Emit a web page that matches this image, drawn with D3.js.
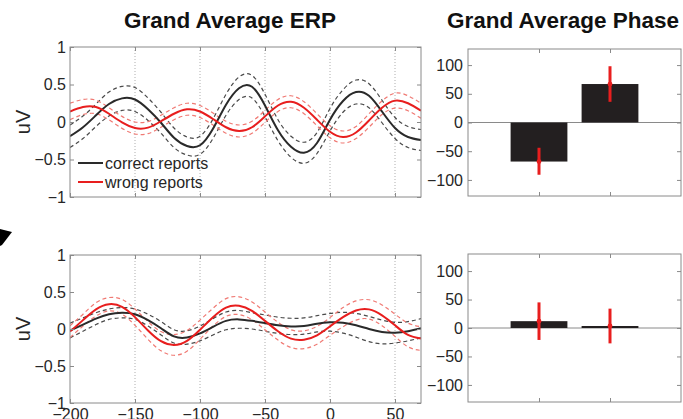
<!DOCTYPE html>
<html>
<head>
<meta charset="utf-8">
<script src="https://cdn.jsdelivr.net/npm/d3@7/dist/d3.min.js"></script>
<style>
  html, body { margin: 0; padding: 0; background: #fff; }
  svg { display: block; font-family: "Liberation Sans", Arial, Helvetica, sans-serif; }
</style>
</head>
<body>
<svg id="fig" width="683" height="419"></svg>
<script>
// Time axis (ms) of the grand-average waveforms
const times = [-200,-190,-180,-170,-160,-150,-140,-130,-120,-110,-100,-90,-80,-70,
               -60,-50,-40,-30,-20,-10,0,10,20,30,40,50,60,70];

// Upper panel: mean ERP (uV) and standard error
const topCorrect = [-0.19,-0.07,0.09,0.24,0.315,0.30,0.17,-0.01,-0.21,-0.32,-0.31,-0.09,0.23,0.45,
                    0.47,0.22,-0.11,-0.33,-0.41,-0.28,0.03,0.28,0.40,0.35,0.14,-0.08,-0.20,-0.24];
const topCorrectSem = [0.15,0.15,0.15,0.16,0.16,0.16,0.15,0.14,0.13,0.12,0.12,0.13,0.14,0.15,
                       0.15,0.15,0.14,0.14,0.14,0.14,0.15,0.15,0.16,0.16,0.15,0.14,0.14,0.14];
const topWrong = [0.14,0.20,0.20,0.11,-0.005,-0.08,-0.075,0.01,0.11,0.17,0.14,0.04,-0.07,-0.12,
                  -0.07,0.075,0.22,0.27,0.19,0.03,-0.13,-0.20,-0.14,0.02,0.19,0.285,0.25,0.15];
const topWrongSem = [0.11,0.10,0.09,0.08,0.08,0.08,0.08,0.08,0.08,0.08,0.08,0.08,0.08,0.08,
                     0.08,0.08,0.08,0.08,0.08,0.08,0.08,0.08,0.08,0.09,0.09,0.10,0.10,0.10];

// Lower panel: mean ERP (uV) and standard error
const botCorrect = [-0.02,0.06,0.14,0.20,0.22,0.20,0.12,0.01,-0.10,-0.115,-0.06,0.03,0.11,0.13,
                    0.11,0.08,0.05,0.035,0.04,0.07,0.09,0.085,0.05,0.0,-0.04,-0.05,-0.03,0.01];
const botCorrectSem = [0.10,0.09,0.08,0.07,0.07,0.07,0.08,0.09,0.09,0.09,0.10,0.11,0.12,0.12,
                       0.11,0.11,0.11,0.11,0.11,0.11,0.12,0.14,0.16,0.17,0.16,0.14,0.13,0.13];
const botWrong = [-0.035,0.12,0.265,0.335,0.30,0.16,-0.02,-0.165,-0.215,-0.16,-0.01,0.16,0.29,0.315,
                  0.245,0.11,-0.03,-0.13,-0.145,-0.085,0.035,0.16,0.25,0.265,0.185,0.05,-0.08,-0.13];
const botWrongSem = [0.08,0.08,0.09,0.09,0.10,0.11,0.12,0.13,0.14,0.14,0.13,0.12,0.12,0.12,
                     0.12,0.12,0.12,0.12,0.12,0.12,0.12,0.13,0.13,0.13,0.14,0.15,0.16,0.16];

// Grand-average phase (deg): bar means with error-bar limits
const phaseGroups = [1, 2];
const topPhase = [-68, 67];
const topPhaseLow = [-91, 36];
const topPhaseHigh = [-44, 98];
const botPhase = [12, 3.5];
const botPhaseLow = [-21, -27];
const botPhaseHigh = [45, 34];

// Tick labels
const erpYTicks = [-1, -0.5, 0, 0.5, 1];
const erpXTicks = [-200, -150, -100, -50, 0, 50];
const erpGridTicks = [-150, -100, -50, 0, 50];
const phaseYTicks = [-100, -50, 0, 50, 100];
const legendLabels = ["correct reports", "wrong reports"];

const C_BLACK = "#2a2a2a", C_RED = "#e81e1e";
const C_BLACK_D = "#4a4a4a", C_RED_D = "#f07a74";
const C_AXIS = "#8a8a8a", C_TEXT = "#262626";
const fmt = d3.format("");

const svg = d3.select("#fig");
svg.append("rect").attr("width", 683).attr("height", 419).attr("fill", "#fff");

function styleAxis(g, labels) {
  g.select(".domain").remove();
  g.selectAll(".tick line").attr("stroke", C_AXIS);
  g.selectAll(".tick text").attr("fill", C_TEXT).attr("font-size", 16);
  if (!labels) g.selectAll(".tick text").remove();
}

function erpPanel(y0, y1, series, showXLabels) {
  const x = d3.scaleLinear().domain([-200, 70]).range([70, 421]);
  const y = d3.scaleLinear().domain([-1, 1]).range([y1, y0]);
  const g = svg.append("g");

  // dotted vertical guides
  g.selectAll(".grid").data(erpGridTicks).join("line")
    .attr("x1", d => x(d)).attr("x2", d => x(d))
    .attr("y1", y0).attr("y2", y1)
    .attr("stroke", "#9a9a9a").attr("stroke-width", 0.8)
    .attr("stroke-dasharray", "1,2");

  const line = (vals, off) => d3.line()
    .x((d, i) => x(times[i]))
    .y((d, i) => y(vals[i] + off(i)))
    .curve(d3.curveNatural)(vals);

  const clipId = "clip" + y0;
  svg.append("clipPath").attr("id", clipId).append("rect")
    .attr("x", 70).attr("y", y0).attr("width", 351).attr("height", y1 - y0);
  const lg = g.append("g").attr("clip-path", `url(#${clipId})`);

  series.forEach(s => {
    [1, -1].forEach(sign => {
      lg.append("path").attr("d", line(s.mean, i => sign * s.sem[i]))
        .attr("fill", "none").attr("stroke", s.dash).attr("stroke-width", 1.2)
        .attr("stroke-dasharray", "4,3");
    });
  });
  series.forEach(s => {
    lg.append("path").attr("d", line(s.mean, () => 0))
      .attr("fill", "none").attr("stroke", s.color).attr("stroke-width", 2);
  });

  // frame
  g.append("rect").attr("x", 70).attr("y", y0).attr("width", 351).attr("height", y1 - y0)
    .attr("fill", "none").attr("stroke", C_AXIS).attr("stroke-width", 1);

  g.append("g").attr("transform", `translate(70,0)`)
    .call(d3.axisLeft(y).tickValues(erpYTicks).tickFormat(fmt).tickSizeInner(-4).tickSizeOuter(0).tickPadding(4))
    .call(a => styleAxis(a, true));
  g.append("g").attr("transform", `translate(421,0)`)
    .call(d3.axisRight(y).tickValues(erpYTicks).tickSizeInner(-4).tickSizeOuter(0))
    .call(a => styleAxis(a, false));
  g.append("g").attr("transform", `translate(0,${y1})`)
    .call(d3.axisBottom(x).tickValues(erpXTicks).tickFormat(fmt).tickSizeInner(-4).tickSizeOuter(0).tickPadding(6))
    .call(a => styleAxis(a, showXLabels));
  g.append("g").attr("transform", `translate(0,${y0})`)
    .call(d3.axisTop(x).tickValues(erpXTicks).tickSizeInner(-4).tickSizeOuter(0))
    .call(a => styleAxis(a, false));

  g.append("text")
    .attr("transform", `translate(30,${(y0 + y1) / 2}) rotate(-90)`)
    .attr("text-anchor", "middle").attr("font-size", 20).attr("fill", C_TEXT)
    .text("uV");
  return g;
}

function phasePanel(y0, y1, dom, vals, lo, hi) {
  const x = d3.scaleLinear().domain([0, 3]).range([468, 681]);
  const y = d3.scaleLinear().domain(dom).range([y1, y0]);
  const g = svg.append("g");

  g.append("line").attr("x1", 468).attr("x2", 681).attr("y1", y(0)).attr("y2", y(0))
    .attr("stroke", "#8a8a8a").attr("stroke-width", 1);

  g.selectAll(".bar").data(vals).join("rect")
    .attr("x", (d, i) => x(phaseGroups[i] - 0.4))
    .attr("width", (d, i) => x(phaseGroups[i] + 0.4) - x(phaseGroups[i] - 0.4))
    .attr("y", d => Math.min(y(d), y(0)))
    .attr("height", d => Math.abs(y(d) - y(0)))
    .attr("fill", "#231f20");

  g.selectAll(".err").data(vals).join("line")
    .attr("x1", (d, i) => x(phaseGroups[i])).attr("x2", (d, i) => x(phaseGroups[i]))
    .attr("y1", (d, i) => y(lo[i])).attr("y2", (d, i) => y(hi[i]))
    .attr("stroke", C_RED).attr("stroke-width", 3);
  g.selectAll(".mk").data(vals).join("circle")
    .attr("cx", (d, i) => x(phaseGroups[i])).attr("cy", d => y(d))
    .attr("r", 2.4).attr("fill", C_RED);

  g.append("rect").attr("x", 468).attr("y", y0).attr("width", 213).attr("height", y1 - y0)
    .attr("fill", "none").attr("stroke", C_AXIS).attr("stroke-width", 1);

  g.append("g").attr("transform", `translate(468,0)`)
    .call(d3.axisLeft(y).tickValues(phaseYTicks).tickFormat(fmt).tickSizeInner(-4).tickSizeOuter(0).tickPadding(5))
    .call(a => styleAxis(a, true));
  g.append("g").attr("transform", `translate(681,0)`)
    .call(d3.axisRight(y).tickValues(phaseYTicks).tickSizeInner(-4).tickSizeOuter(0))
    .call(a => styleAxis(a, false));
  g.append("g").attr("transform", `translate(0,${y1})`)
    .call(d3.axisBottom(x).tickValues(phaseGroups).tickSizeInner(-4).tickSizeOuter(0))
    .call(a => styleAxis(a, false));
  g.append("g").attr("transform", `translate(0,${y0})`)
    .call(d3.axisTop(x).tickValues(phaseGroups).tickSizeInner(-4).tickSizeOuter(0))
    .call(a => styleAxis(a, false));
}

// ERP panels
erpPanel(47, 197, [
  {mean: topCorrect, sem: topCorrectSem, color: C_BLACK, dash: C_BLACK_D},
  {mean: topWrong, sem: topWrongSem, color: C_RED, dash: C_RED_D}
], false);
erpPanel(255, 403, [
  {mean: botCorrect, sem: botCorrectSem, color: C_BLACK, dash: C_BLACK_D},
  {mean: botWrong, sem: botWrongSem, color: C_RED, dash: C_RED_D}
], true);

// phase panels
phasePanel(49, 196, [-128, 128], topPhase, topPhaseLow, topPhaseHigh);
phasePanel(254, 402, [-130, 130], botPhase, botPhaseLow, botPhaseHigh);

// legend
const leg = svg.append("g");
legendLabels.forEach((lab, i) => {
  const yy = 163 + i * 19;
  leg.append("line").attr("x1", 78).attr("x2", 103).attr("y1", yy).attr("y2", yy)
    .attr("stroke", i === 0 ? C_BLACK : C_RED).attr("stroke-width", 2);
  leg.append("text").attr("x", 105).attr("y", yy + 5.5).attr("font-size", 16)
    .attr("fill", C_TEXT).text(lab);
});

// titles
svg.append("text").attr("x", 230).attr("y", 28).attr("text-anchor", "middle")
  .attr("font-size", 22.5).attr("font-weight", "bold").attr("fill", "#111")
  .text("Grand Average ERP");
svg.append("text").attr("x", 563).attr("y", 28).attr("text-anchor", "middle")
  .attr("font-size", 22.5).attr("font-weight", "bold").attr("fill", "#111")
  .text("Grand Average Phase");

// arrowhead at the left margin
svg.append("path").attr("d", "M0,229 L12,232 L2,245 L0,246 Z").attr("fill", "#000");
</script>
</body>
</html>
